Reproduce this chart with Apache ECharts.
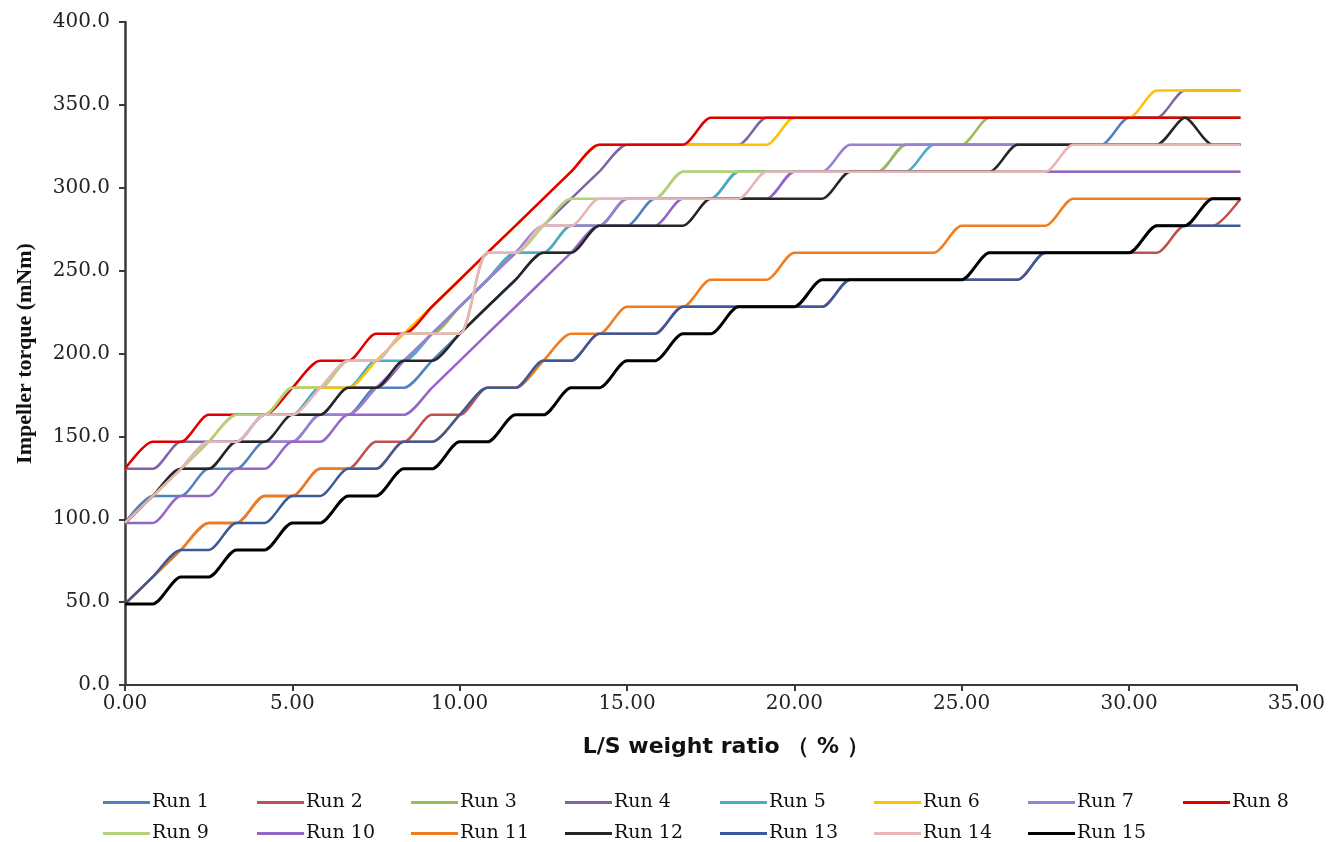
<!DOCTYPE html>
<html>
<head>
<meta charset="utf-8">
<script src="https://cdn.jsdelivr.net/npm/echarts@6/dist/echarts.min.js"></script>
<style>
  html, body { margin: 0; padding: 0; background: #ffffff; }
  #chart { width: 1328px; height: 842px; }
</style>
</head>
<body>
<div id="chart"></div>
<script>
// L/S weight ratio (%) at each liquid addition
const lsRatio = [0.00, 0.83, 1.67, 2.50, 3.33, 4.17, 5.00, 5.83, 6.67, 7.50, 8.33, 9.17, 10.00, 10.83, 11.67, 12.50, 13.33, 14.17, 15.00, 15.83, 16.67, 17.50, 18.33, 19.17, 20.00, 20.83, 21.67, 22.50, 23.33, 24.17, 25.00, 25.83, 26.67, 27.50, 28.33, 29.17, 30.00, 30.83, 31.67, 32.50, 33.33];

// Impeller torque (mNm) per run
const run1 = [97.8,114.1,114.1,130.4,130.4,146.7,146.7,163.0,163.0,179.3,179.3,195.6,211.9,228.2,244.5,260.8,260.8,277.1,277.1,293.4,293.4,293.4,309.7,309.7,309.7,309.7,309.7,309.7,326.0,326.0,326.0,326.0,326.0,326.0,326.0,326.0,342.3,342.3,342.3,342.3,342.3];
const run2 = [48.9,65.2,81.5,97.8,97.8,114.1,114.1,130.4,130.4,146.7,146.7,163.0,163.0,179.3,179.3,195.6,195.6,211.9,211.9,211.9,228.2,228.2,228.2,228.2,228.2,228.2,244.5,244.5,244.5,244.5,244.5,244.5,244.5,260.8,260.8,260.8,260.8,260.8,277.1,277.1,293.4];
const run3 = [97.8,114.1,130.4,146.7,163.0,163.0,179.3,179.3,195.6,195.6,211.9,211.9,228.2,244.5,260.8,260.8,277.1,277.1,293.4,293.4,309.7,309.7,309.7,309.7,309.7,309.7,309.7,309.7,326.0,326.0,326.0,342.3,342.3,342.3,342.3,342.3,342.3,342.3,342.3,342.3,342.3];
const run4 = [130.4,130.4,146.7,146.7,146.7,163.0,163.0,163.0,179.3,179.3,195.6,211.9,228.2,244.5,260.8,277.1,293.4,309.7,326.0,326.0,326.0,326.0,326.0,342.3,342.3,342.3,342.3,342.3,342.3,342.3,342.3,342.3,342.3,342.3,342.3,342.3,342.3,342.3,358.6,358.6,358.6];
const run5 = [97.8,114.1,130.4,146.7,146.7,163.0,163.0,179.3,179.3,195.6,195.6,211.9,228.2,244.5,260.8,260.8,277.1,277.1,293.4,293.4,293.4,293.4,309.7,309.7,309.7,309.7,309.7,309.7,309.7,326.0,326.0,326.0,326.0,326.0,326.0,326.0,326.0,326.0,326.0,326.0,326.0];
const run6 = [97.8,114.1,130.4,146.7,163.0,163.0,179.3,179.3,179.3,195.6,211.9,228.2,244.5,260.8,277.1,293.4,309.7,326.0,326.0,326.0,326.0,326.0,326.0,326.0,342.3,342.3,342.3,342.3,342.3,342.3,342.3,342.3,342.3,342.3,342.3,342.3,342.3,358.6,358.6,358.6,358.6];
const run7 = [97.8,114.1,130.4,130.4,146.7,146.7,146.7,163.0,163.0,179.3,195.6,211.9,228.2,244.5,260.8,277.1,277.1,277.1,293.4,293.4,293.4,293.4,293.4,293.4,309.7,309.7,326.0,326.0,326.0,326.0,326.0,326.0,326.0,326.0,326.0,326.0,326.0,326.0,326.0,326.0,326.0];
const run8 = [130.4,146.7,146.7,163.0,163.0,163.0,179.3,195.6,195.6,211.9,211.9,228.2,244.5,260.8,277.1,293.4,309.7,326.0,326.0,326.0,326.0,342.3,342.3,342.3,342.3,342.3,342.3,342.3,342.3,342.3,342.3,342.3,342.3,342.3,342.3,342.3,342.3,342.3,342.3,342.3,342.3];
const run9 = [97.8,114.1,130.4,146.7,163.0,163.0,179.3,179.3,195.6,195.6,211.9,211.9,211.9,260.8,260.8,277.1,293.4,293.4,293.4,293.4,309.7,309.7,309.7,309.7,309.7,309.7,309.7,309.7,309.7,309.7,309.7,309.7,309.7,309.7,309.7,309.7,309.7,309.7,309.7,309.7,309.7];
const run10 = [97.8,97.8,114.1,114.1,130.4,130.4,146.7,146.7,163.0,163.0,163.0,179.3,195.6,211.9,228.2,244.5,260.8,277.1,277.1,277.1,293.4,293.4,293.4,293.4,309.7,309.7,309.7,309.7,309.7,309.7,309.7,309.7,309.7,309.7,309.7,309.7,309.7,309.7,309.7,309.7,309.7];
const run11 = [48.9,65.2,81.5,97.8,97.8,114.1,114.1,130.4,130.4,130.4,146.7,146.7,163.0,179.3,179.3,195.6,211.9,211.9,228.2,228.2,228.2,244.5,244.5,244.5,260.8,260.8,260.8,260.8,260.8,260.8,277.1,277.1,277.1,277.1,293.4,293.4,293.4,293.4,293.4,293.4,293.4];
const run12 = [97.8,114.1,130.4,130.4,146.7,146.7,163.0,163.0,179.3,179.3,195.6,195.6,211.9,228.2,244.5,260.8,260.8,277.1,277.1,277.1,277.1,293.4,293.4,293.4,293.4,293.4,309.7,309.7,309.7,309.7,309.7,309.7,326.0,326.0,326.0,326.0,326.0,326.0,342.3,326.0,326.0];
const run13 = [48.9,65.2,81.5,81.5,97.8,97.8,114.1,114.1,130.4,130.4,146.7,146.7,163.0,179.3,179.3,195.6,195.6,211.9,211.9,211.9,228.2,228.2,228.2,228.2,228.2,228.2,244.5,244.5,244.5,244.5,244.5,244.5,244.5,260.8,260.8,260.8,260.8,277.1,277.1,277.1,277.1];
const run14 = [97.8,114.1,130.4,146.7,146.7,163.0,163.0,179.3,195.6,195.6,211.9,211.9,211.9,260.8,260.8,277.1,277.1,293.4,293.4,293.4,293.4,293.4,293.4,309.7,309.7,309.7,309.7,309.7,309.7,309.7,309.7,309.7,309.7,309.7,326.0,326.0,326.0,326.0,326.0,326.0,326.0];
const run15 = [48.9,48.9,65.2,65.2,81.5,81.5,97.8,97.8,114.1,114.1,130.4,130.4,146.7,146.7,163.0,163.0,179.3,179.3,195.6,195.6,211.9,211.9,228.2,228.2,228.2,244.5,244.5,244.5,244.5,244.5,244.5,260.8,260.8,260.8,260.8,260.8,260.8,277.1,277.1,293.4,293.4];

const runNames = ['Run 1','Run 2','Run 3','Run 4','Run 5','Run 6','Run 7','Run 8','Run 9','Run 10','Run 11','Run 12','Run 13','Run 14','Run 15'];
const runValues = [run1, run2, run3, run4, run5, run6, run7, run8, run9, run10, run11, run12, run13, run14, run15];

const runColors = ['#4f81bd','#c0504d','#9bbb59','#8064a2','#4bacc6','#ffc000','#9b7fd4','#e00000',
                   '#b3d27a','#9466c8','#f07c1e','#262626','#3a5a9c','#e6b5b4','#000000'];
const runWidths = [2.5,2.5,2.5,2.5,2.5,2.5,2.5,2.5,2.5,2.5,2.5,2.5,2.5,2.5,3];

// legend grid: 8 columns, 2 rows
const legendCols = [103, 257, 411, 565, 720, 874, 1028, 1183];
const legendRows = [793, 824];

const serif = 'DejaVu Serif';

const chart = echarts.init(document.getElementById('chart'));
chart.setOption({
  animation: false,
  backgroundColor: '#ffffff',
  grid: { left: 125, right: 30, top: 22, bottom: 157, containLabel: false },
  legend: runNames.map((name, i) => ({
    data: [name],
    left: legendCols[i % 8],
    top: legendRows[Math.floor(i / 8)],
    padding: 0,
    icon: 'rect',
    itemWidth: 47,
    itemHeight: 3,
    selectedMode: false,
    textStyle: { fontFamily: serif, fontSize: 19, color: '#111', padding: [0, 0, 0, -3] }
  })),
  xAxis: {
    type: 'value',
    min: 0, max: 35, interval: 5,
    name: 'L/S weight ratio （ % ）',
    nameLocation: 'middle',
    nameGap: 51,
    nameTextStyle: { fontFamily: 'DejaVu Sans', fontWeight: 'bold', fontSize: 22, color: '#111',
                     padding: [0, 0, 0, 30] },
    axisLine: { show: true, lineStyle: { color: '#3a3a3a', width: 2 } },
    axisTick: { show: true, inside: false, length: 6, lineStyle: { color: '#3a3a3a', width: 2 } },
    axisLabel: { fontFamily: serif, fontSize: 20, color: '#222', margin: 9,
                 formatter: v => v.toFixed(2) },
    splitLine: { show: false }
  },
  yAxis: {
    type: 'value',
    min: 0, max: 400, interval: 50,
    name: 'Impeller torque (mNm)',
    nameLocation: 'middle',
    nameGap: 89,
    nameRotate: 90,
    nameTextStyle: { fontFamily: 'Liberation Serif', fontWeight: 'bold', fontSize: 22, color: '#111' },
    axisLine: { show: true, lineStyle: { color: '#3a3a3a', width: 2.5 } },
    axisTick: { show: true, inside: false, length: 6, lineStyle: { color: '#3a3a3a', width: 2 } },
    axisLabel: { fontFamily: serif, fontSize: 20, color: '#222', margin: 15,
                 formatter: v => v.toFixed(1) },
    splitLine: { show: false }
  },
  series: runNames.map((name, i) => ({
    name: name,
    type: 'line',
    data: lsRatio.map((x, k) => [x, runValues[i][k]]),
    smooth: 0.25,
    symbol: 'none',
    showSymbol: false,
    color: runColors[i],
    lineStyle: { color: runColors[i], width: runWidths[i] },
    emphasis: { disabled: true },
    z: 2 + i
  }))
});
</script>
</body>
</html>
